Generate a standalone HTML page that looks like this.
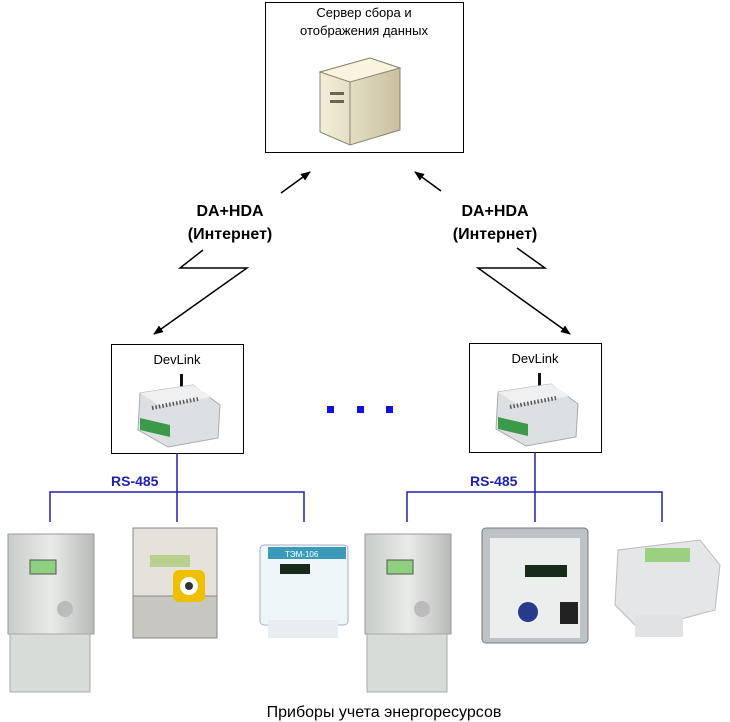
<!DOCTYPE html>
<html><head><meta charset="utf-8"><style>
body{margin:0;background:#fff;width:730px;height:722px;overflow:hidden}
svg{display:block}
text{font-family:"Liberation Sans",sans-serif}
</style></head><body>
<svg width="730" height="722" viewBox="0 0 730 722">
<defs>
<marker id="ah" markerWidth="10" markerHeight="8" refX="9" refY="4" orient="auto" markerUnits="userSpaceOnUse"><path d="M0,0 L10,4 L0,8 Z" fill="#000"/></marker>
<linearGradient id="g1" x1="0" x2="1"><stop offset="0" stop-color="#c8ccc8"/><stop offset="0.5" stop-color="#e8ebe8"/><stop offset="1" stop-color="#b8bcb8"/></linearGradient>
<linearGradient id="g2" x1="0" x2="1"><stop offset="0" stop-color="#f4f0d8"/><stop offset="1" stop-color="#c8c0a0"/></linearGradient>
</defs>
<!-- server -->
<rect x="265.5" y="2.5" width="198" height="150" fill="#fff" stroke="#000"/>
<text x="364" y="17" font-size="13" text-anchor="middle">Сервер сбора и</text>
<text x="364" y="35" font-size="13" text-anchor="middle">отображения данных</text>
<polygon points="320,72 370,58 400,68 400,130 350,145 320,132" fill="url(#g2)" stroke="#8a8470"/>
<polygon points="320,72 370,58 400,68 350,82" fill="#f8f4e0" stroke="#8a8470"/>
<line x1="350" y1="82" x2="350" y2="145" stroke="#8a8470"/>
<rect x="330" y="92" width="14" height="3" fill="#6a6450"/><rect x="330" y="100" width="14" height="3" fill="#6a6450"/>
<!-- arrows -->
<g stroke="#000" stroke-width="1.5" fill="none">
<line x1="281" y1="193" x2="310" y2="172" marker-end="url(#ah)"/>
<polyline points="203,250 180,268 247,268 154,334" marker-end="url(#ah)"/>
<line x1="441" y1="191" x2="415" y2="172" marker-end="url(#ah)"/>
<polyline points="517,248 545,268 478,268 570,334" marker-end="url(#ah)"/>
</g>
<g font-size="16" font-weight="bold" text-anchor="middle">
<text x="230" y="216">DA+HDA</text><text x="230" y="239">(Интернет)</text>
<text x="495" y="216">DA+HDA</text><text x="495" y="239">(Интернет)</text>
</g>
<!-- devlinks -->
<g id="dl">
<rect x="111.5" y="344.5" width="132" height="109" fill="#fff" stroke="#000"/>
<text x="177" y="364" font-size="13" text-anchor="middle">DevLink</text>
<rect x="180" y="374" width="3" height="16" fill="#111"/>
<polygon points="140,393 193,385 220,405 218,438 168,447 138,430" fill="#dde0e2" stroke="#aaa"/>
<polygon points="140,393 193,385 212,397 160,406" fill="#eef0f2"/>
<polygon points="140,418 170,425 170,437 140,430" fill="#3a9a4a"/>
<line x1="152" y1="408" x2="198" y2="399" stroke="#555" stroke-width="4" stroke-dasharray="1.5,2"/>
</g>
<use href="#dl" x="358" y="-1"/>
<rect x="327" y="406" width="7" height="7" fill="#1010e0"/>
<rect x="357" y="406" width="7" height="7" fill="#1010e0"/>
<rect x="386" y="406" width="7" height="7" fill="#1010e0"/>
<!-- rs485 -->
<g stroke="#2020b0" stroke-width="1.5" fill="none">
<polyline points="177,453 177,522"/><polyline points="50,522 50,492 304,492 304,522"/>
<polyline points="535,452 535,522"/><polyline points="407,522 407,492 662,492 662,522"/>
</g>
<g font-size="14" font-weight="bold" fill="#2020b0">
<text x="111" y="486">RS-485</text><text x="470" y="486">RS-485</text>
</g>
<!-- meters -->
<g id="m1">
<rect x="8" y="534" width="86" height="100" fill="url(#g1)" stroke="#999"/>
<rect x="10" y="634" width="80" height="58" fill="#d8dcd8" stroke="#aaa"/>
<rect x="30" y="560" width="26" height="14" fill="#8fd080" stroke="#555"/>
<circle cx="65" cy="609" r="8" fill="#bbb"/>
</g>
<use href="#m1" x="357"/>
<rect x="133" y="528" width="84" height="110" fill="#c8c6c0" stroke="#888"/>
<rect x="133" y="528" width="84" height="68" fill="#e4e2da" stroke="#888"/>
<rect x="150" y="555" width="40" height="12" fill="#b8d090"/>
<rect x="173" y="570" width="32" height="32" rx="6" fill="#f0c000"/><circle cx="189" cy="586" r="9" fill="#fff"/><circle cx="189" cy="586" r="4" fill="#333"/>
<rect x="260" y="545" width="88" height="80" rx="4" fill="#eef6fa" stroke="#aac"/>
<rect x="268" y="547" width="78" height="12" fill="#3a9ab8"/><text x="285" y="557" font-size="8" fill="#fff">ТЭМ-106</text>
<rect x="280" y="564" width="30" height="10" fill="#1a2a1a"/>
<rect x="268" y="620" width="70" height="18" fill="#e8eef0"/>
<rect x="482" y="528" width="106" height="115" rx="4" fill="#bcc2c6" stroke="#777"/>
<rect x="490" y="538" width="90" height="100" fill="#eceeee"/>
<rect x="525" y="565" width="42" height="12" fill="#1a2a1a"/>
<rect x="560" y="602" width="18" height="22" fill="#222"/><circle cx="528" cy="612" r="10" fill="#2a3a8a"/>
<polygon points="618,550 700,540 720,565 715,610 640,630 615,605" fill="#e4e6e8" stroke="#bbb"/>
<rect x="645" y="548" width="45" height="14" fill="#9ad080"/>
<rect x="635" y="615" width="48" height="22" fill="#e0e2e4"/>
<text x="384" y="717" font-size="16" text-anchor="middle">Приборы учета энергоресурсов</text>
</svg>
</body></html>
